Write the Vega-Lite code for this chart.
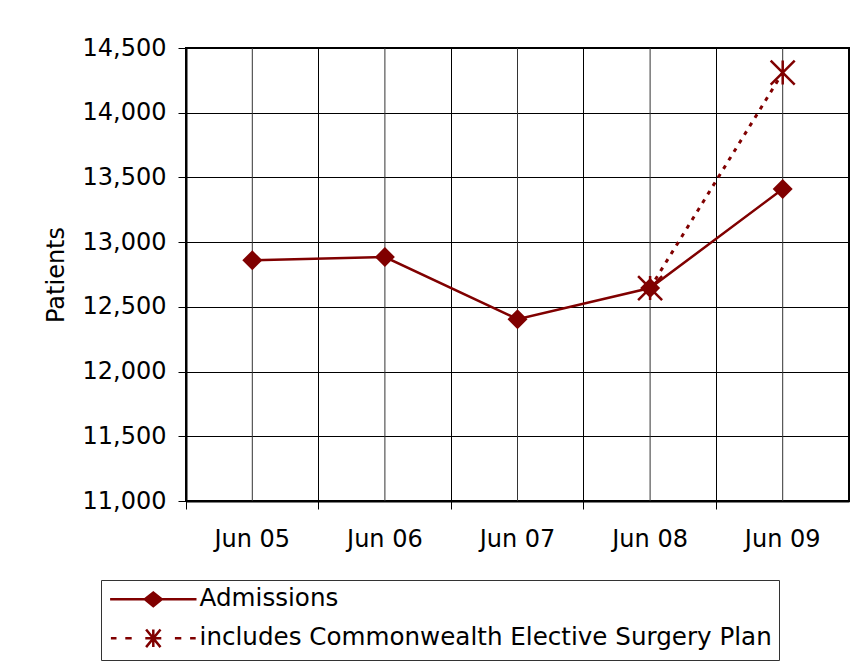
{
  "$schema": "https://vega.github.io/schema/vega-lite/v6.json",
  "width": 663,
  "height": 453,
  "autosize": {"type": "none"},
  "padding": {"left": 186, "top": 48, "right": 11, "bottom": 161},
  "background": "white",
  "data": {
    "values": [
      {"period": "Jun 05", "series": "Admissions", "patients": 12860},
      {"period": "Jun 06", "series": "Admissions", "patients": 12885},
      {"period": "Jun 07", "series": "Admissions", "patients": 12405},
      {"period": "Jun 08", "series": "Admissions", "patients": 12645},
      {"period": "Jun 09", "series": "Admissions", "patients": 13410},
      {"period": "Jun 08", "series": "includes Commonwealth Elective Surgery Plan", "patients": 12645},
      {"period": "Jun 09", "series": "includes Commonwealth Elective Surgery Plan", "patients": 14310}
    ]
  },
  "encoding": {
    "x": {
      "field": "period",
      "type": "ordinal",
      "bandPosition": 0.5,
      "scale": {"type": "band", "paddingInner": 0, "paddingOuter": 0},
      "axis": {
        "title": null,
        "bandPosition": 0,
        "labelAngle": 0,
        "labelPadding": 18,
        "grid": true
      }
    }
  },
  "layer": [
    {
      "transform": [{"filter": "datum.series === 'Admissions'"}],
      "mark": {"type": "rule", "color": "#333333", "strokeWidth": 1},
      "encoding": {}
    },
    {
      "transform": [{"filter": "datum.series === 'Admissions'"}],
      "mark": {"type": "line", "color": "#800000", "strokeWidth": 2.5},
      "encoding": {
        "y": {
          "field": "patients",
          "type": "quantitative",
          "scale": {"domain": [11000, 14500], "zero": false, "nice": false},
          "axis": {
            "title": "Patients",
            "values": [11000, 11500, 12000, 12500, 13000, 13500, 14000, 14500],
            "format": ",.0f",
            "labelPadding": 12,
            "titlePadding": 14,
            "grid": true
          }
        }
      }
    },
    {
      "transform": [{"filter": "datum.series !== 'Admissions'"}],
      "mark": {"type": "line", "color": "#800000", "strokeWidth": 3, "strokeDash": [4, 6]},
      "encoding": {"y": {"field": "patients", "type": "quantitative"}}
    },
    {
      "transform": [{"filter": "datum.series === 'Admissions'"}],
      "mark": {"type": "point", "shape": "diamond", "filled": true, "color": "#800000", "size": 400, "opacity": 1},
      "encoding": {"y": {"field": "patients", "type": "quantitative"}}
    },
    {
      "transform": [{"filter": "datum.series !== 'Admissions'"}],
      "mark": {
        "type": "point",
        "shape": "M-1,-1L1,1M-1,1L1,-1M0,-1L0,1",
        "filled": false,
        "color": "#800000",
        "strokeWidth": 2.5,
        "size": 576,
        "opacity": 1
      },
      "encoding": {"y": {"field": "patients", "type": "quantitative"}}
    },
    {
      "mark": {
        "type": "point",
        "filled": true,
        "fill": "#800000",
        "stroke": "#800000",
        "strokeWidth": 2.5,
        "size": 0,
        "opacity": 1
      },
      "encoding": {
        "y": {"field": "patients", "type": "quantitative"},
        "shape": {
          "field": "series",
          "type": "nominal",
          "scale": {
            "domain": ["Admissions", "includes Commonwealth Elective Surgery Plan"],
            "range": [
              "M-5.4,0L5.4,0M-1.05,0L0,-0.85L1.05,0L0,0.85Z",
              "M-5.3,0L-4.6,0M-3.5,0L-2.7,0M-1,0L1,0M2.7,0L3.5,0M4.6,0L5.3,0M-0.9,-1.1L0.9,1.1M-0.9,1.1L0.9,-1.1M0,-1.1L0,1.1"
            ]
          },
          "legend": {
            "title": null,
            "orient": "none",
            "legendX": -85,
            "legendY": 532,
            "strokeColor": "#333333",
            "padding": 7,
            "symbolSize": 256,
            "symbolOffset": 33,
            "labelOffset": 34,
            "labelLimit": 1000,
            "labelFontSize": 24.6,
            "rowPadding": 12
          }
        }
      }
    }
  ],
  "config": {
    "font": "DejaVu Sans",
    "view": {"stroke": "#000000", "strokeWidth": 2},
    "axis": {
      "labelFont": "DejaVu Sans",
      "labelFontSize": 24,
      "labelColor": "#000000",
      "titleFont": "DejaVu Sans",
      "titleFontSize": 24,
      "titleFontWeight": "normal",
      "titleColor": "#000000",
      "domainColor": "#000000",
      "domainWidth": 2,
      "tickColor": "#000000",
      "tickSize": 8,
      "tickWidth": 1,
      "gridColor": "#000000",
      "gridWidth": 1,
      "gridOpacity": 1
    },
    "legend": {
      "labelFont": "DejaVu Sans",
      "labelFontSize": 24,
      "labelColor": "#000000",
      "symbolStrokeWidth": 2.5
    }
  }
}
